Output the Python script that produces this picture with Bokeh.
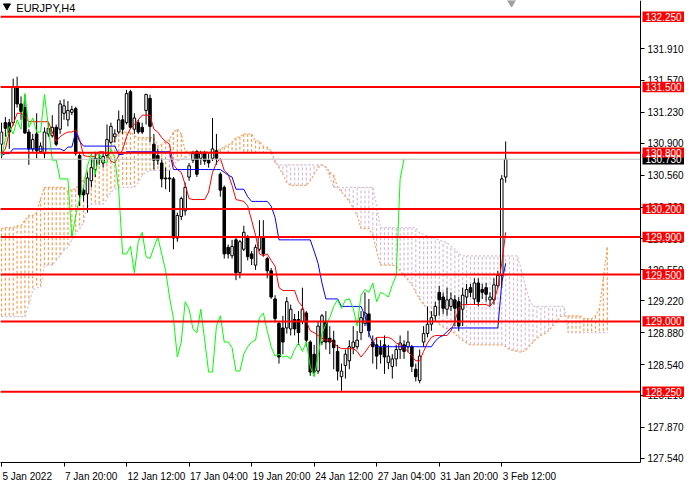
import numpy as np
from bokeh.plotting import figure
from bokeh.models import (Range1d, FixedTicker, PrintfTickFormatter, CustomJSTickFormatter,
                          ColumnDataSource, LinearAxis)
from bokeh.core.properties import value
from bokeh.embed import file_html
from bokeh.resources import INLINE

# ---------------- data (EURJPY, H4) ----------------
opens = [130.89,131.12,131.12,131.12,131.50,131.32,131.28,131.02,130.84,131.00,
         130.81,130.79,131.00,130.98,131.07,131.05,131.22,131.15,131.23,131.27,
         130.77,130.40,130.36,130.50,130.62,130.73,130.69,130.77,130.91,130.97,
         131.02,131.15,131.12,131.45,131.05,131.12,131.07,131.25,131.38,130.89,
         130.77,130.69,130.53,130.53,130.52,129.89,130.12,130.18,130.54,130.72,
         130.81,130.74,130.79,130.72,130.74,130.82,130.57,130.43,129.79,129.70,
         129.87,129.52,129.77,129.89,129.72,129.60,129.77,129.89,129.67,129.54,
         129.24,128.98,128.93,128.93,128.92,129.02,129.02,129.00,129.09,128.78,
         128.65,128.47,128.78,129.00,128.82,128.80,128.68,128.41,128.53,128.58,
         128.72,128.73,128.88,128.98,129.08,128.78,128.75,128.72,128.75,128.56,
         128.52,128.60,128.70,128.75,128.73,128.73,128.49,128.37,128.78,128.87,
         128.97,129.06,129.31,129.26,129.13,129.16,129.23,129.21,129.13,129.26,
         129.36,129.24,129.41,129.34,129.36,129.23,129.23,129.38,129.49,130.54]
highs = [131.12,131.18,131.16,131.59,131.61,131.40,131.42,131.05,131.00,131.22,
         130.91,131.07,131.12,131.20,131.10,131.36,131.37,131.35,131.30,131.29,
         130.81,130.43,130.59,130.74,130.81,130.81,130.81,131.10,131.12,131.05,
         131.25,131.20,131.47,131.47,131.22,131.15,131.12,131.43,131.42,131.00,
         130.84,130.74,130.64,130.61,130.54,130.16,130.33,130.48,130.69,130.82,
         130.83,130.82,130.82,130.79,131.17,131.00,130.59,130.45,129.82,129.87,
         129.89,129.87,130.02,129.92,129.75,129.82,130.08,130.08,129.69,129.57,
         129.28,129.00,129.06,129.26,129.18,129.08,129.11,129.36,129.11,128.80,
         128.75,129.00,129.08,129.11,128.95,128.90,128.75,128.55,128.70,128.80,
         128.95,128.90,129.11,129.31,129.24,128.85,128.83,128.80,128.85,128.75,
         128.65,128.75,128.85,128.80,128.90,128.75,128.55,128.70,128.95,129.16,
         129.11,129.21,129.38,129.31,129.36,129.31,129.28,129.26,129.36,129.40,
         129.40,129.46,129.46,129.40,129.41,129.31,129.46,129.54,130.56,130.92]
lows = [130.74,130.97,130.84,131.09,131.28,131.15,131.00,130.67,130.81,130.74,
        130.79,130.74,130.97,130.96,130.87,131.00,131.15,131.08,131.20,130.77,
        130.23,130.28,130.16,130.43,130.54,130.67,130.64,130.74,130.89,130.91,
        131.00,131.00,131.10,131.05,131.00,131.00,131.00,131.10,130.91,130.62,
        130.67,130.43,130.41,130.38,129.77,129.85,130.08,130.13,130.50,130.69,
        130.54,130.67,130.67,130.64,130.71,130.67,130.33,129.67,129.67,129.67,
        129.44,129.46,129.75,129.65,129.60,129.55,129.75,129.69,129.46,129.24,
        128.99,128.55,128.65,128.87,128.85,128.85,128.75,128.97,128.73,128.42,
        128.42,128.44,128.75,128.70,128.65,128.49,128.37,128.26,128.39,128.49,
        128.65,128.70,128.80,128.95,128.83,128.55,128.49,128.55,128.44,128.49,
        128.39,128.52,128.60,128.60,128.67,128.46,128.36,128.34,128.73,128.83,
        128.90,129.00,129.06,129.08,129.06,129.11,128.95,128.90,128.95,129.18,
        129.26,129.18,129.16,129.24,129.21,129.16,129.18,129.36,129.36,130.48]
closes = [131.02,131.06,131.02,131.50,131.32,131.24,131.01,130.84,130.94,130.82,
          130.87,131.02,131.06,131.07,130.89,131.32,131.30,131.25,131.26,130.79,
          130.35,130.35,130.53,130.64,130.74,130.74,130.76,130.94,131.08,131.00,
          131.15,131.05,131.43,131.07,131.17,131.02,131.02,131.42,131.08,130.72,
          130.72,130.52,130.52,130.52,129.89,130.13,130.31,130.43,130.66,130.79,
          130.57,130.79,130.71,130.69,130.84,130.74,130.40,129.72,129.72,129.80,
          129.52,129.85,129.95,129.69,129.67,129.79,129.90,129.72,129.54,129.26,
          129.03,128.62,128.78,129.21,129.13,128.92,128.88,129.13,128.80,128.46,
          128.46,128.95,129.06,128.78,128.78,128.72,128.47,128.47,128.65,128.73,
          128.78,128.80,129.04,129.09,128.90,128.73,128.63,128.65,128.62,128.63,
          128.60,128.70,128.77,128.68,128.78,128.52,128.41,128.63,128.87,128.97,
          129.04,129.16,129.23,129.14,129.23,129.24,129.14,128.95,129.28,129.34,
          129.31,129.41,129.21,129.31,129.29,129.26,129.39,129.49,130.52,130.73]

tenkan = ([130.79,130.84,131.02,131.10,131.22,131.22,131.18] + [131.13]*6 +
          [131.02,130.92,130.97,131.00,131.02,131.02,131.04,130.94,130.77] + [130.76]*3 +
          [130.81,130.81,130.79,130.71,130.69,130.77,130.83,130.97,131.06,131.10,131.15] + [131.20]*3 +
          [131.05,131.02,130.96,130.92,130.89,130.67,130.62,130.59,130.46,130.31] + [130.30]*4 +
          [130.38,130.59,130.69,130.74,130.61,130.57,130.45,130.30,130.29,130.28,
           130.23,130.08,129.92,129.72,129.70,129.72,129.65,129.59,129.36] + [129.33]*4 +
          [129.21,129.16,129.00,128.90,128.88,128.85,128.82,128.80,128.80,128.77,128.73] + [128.71]*4 +
          [128.68,128.62,128.67,128.73,128.78] + [128.83]*4 +
          [128.81,128.77,128.75,128.72,128.68,128.63,128.58,128.58,128.68,128.77,128.83] + [128.85]*4 +
          [128.90,129.00,129.14] + [129.18]*7 + [129.16,129.22,129.36,129.62,129.95])

kijun = ([130.77,130.79,130.79] + [130.84]*13 + [130.82,130.86,130.86,131.02,130.92] + [130.87]*9 +
         [130.78]*2 + [130.81]*12 + [130.62]*13 + [130.59,130.56,130.54] + [130.41]*3 + [130.33] +
         [130.28]*5 + [130.23,130.11] + [129.87]*9 + [129.75,129.62,129.41] + [129.24]*4 + [129.16]*6 +
         [129.06,128.88,128.77] + [128.73]*15 + [128.79,128.83,128.85,128.89] + [128.93]*13 + [129.41,129.62])

span_a = ([129.99] + [130.00]*3 + [130.02]*2 + [130.08] + [130.13]*2 + [130.16,130.31] + [130.43]*6 +
          [130.38,130.41,130.41,130.48,130.51,130.61,130.64,130.67,130.71,130.74,130.79,130.87,130.94,131.00] +
          [131.02]*3 + [130.98] + [130.96]*5 + [130.87,130.89,130.92,130.94,131.02,131.05,131.00,130.82] +
          [130.81]*7 + [130.82,130.84,130.86,130.88,130.91,130.96,130.97] + [131.00]*3 +
          [130.93,130.92,130.87,130.86,130.82,130.71,130.64,130.57,130.48] + [130.45]*5 +
          [130.50,130.57,130.64,130.67,130.65,130.59,130.56,130.43,130.38,130.33,130.28,130.21,130.13] +
          [129.99]*3 + [129.92,129.75] + [129.60]*4 +
          [129.59,129.54,129.49,129.44,129.39,129.31,129.24,129.18,129.13,129.08,
           129.03,128.97,128.94,128.92,128.90,128.87,128.83,128.80,128.77] + [128.75]*9 +
          [128.73,128.70,128.69,128.68,128.67,128.69,128.73,128.78,128.82,128.85,
           128.87,128.90,128.95,128.99,129.05] + [129.06]*5 + [129.03]*3 + [129.06,129.14,129.46,129.79])

span_b = ([129.05]*7 + [129.18,129.33,129.36,129.36] + [129.60]*3 +
          [129.65,129.70,129.76,129.79,129.87,129.94,129.99,130.05,130.23] + [130.25]*4 +
          [130.31,130.38,130.41] + [130.43]*5 + [130.48,130.56,130.59] + [130.61]*6 +
          [130.67,130.71,130.73,130.74,130.77] + [130.80]*21 + [130.69] + [130.67]*12 +
          [130.64,130.54] + [130.43]*11 + [130.23] + [130.00]*10 +
          [129.94,129.93,129.91,129.89,129.88,129.87,129.85,129.84,129.80,129.77,129.72] +
          [129.70]*15 + [129.55,129.39,129.24] + [129.16]*9 + [128.88]*11)

levels = [132.250, 131.500, 130.800, 130.200, 129.900, 129.500, 129.000, 128.250]
bid = 130.730
price_ticks = [131.910, 131.570, 131.230, 130.900, 130.560, 130.220, 129.880,
               129.550, 129.220, 128.880, 128.540, 128.210, 127.870, 127.540]
time_ticks = [0, 16, 32, 48, 64, 80, 96, 112, 128]
time_labels = ["5 Jan 2022", "7 Jan 20:00", "12 Jan 12:00", "17 Jan 04:00", "19 Jan 20:00",
               "24 Jan 12:00", "27 Jan 04:00", "31 Jan 20:00", "3 Feb 12:00"]
chikou_shift = 26
chart_shift_bar = 130.5
symbol_title = "EURJPY,H4"

n = len(closes)
assert len(opens) == n and len(highs) == n and len(lows) == n
assert len(tenkan) == n and len(kijun) == n, (len(tenkan), len(kijun))
assert len(span_a) == len(span_b), (len(span_a), len(span_b))

# ---------------- layout / styling ----------------
FONT = "Liberation Sans"
SANDY = "#F4A460"
THISTLE = "#D8BFD8"
W, H = 684, 484
BOTTOM = 17
FRAME_H = H - BOTTOM
PLOT_W = 640                      # width of the price area (left of the price scale)
Y0, Y1 = 127.495, 132.423
X0, X_AXIS = -0.25, 163.5         # visible bars
PX_PER_BAR = PLOT_W / (X_AXIS - X0)
X_END = X0 + W / PX_PER_BAR       # the scale strip lives inside the frame, right of X_AXIS
PX_PER_PRICE = FRAME_H / (Y1 - Y0)

p = figure(width=W, height=H, x_range=Range1d(X0, X_END), y_range=Range1d(Y0, Y1),
           y_axis_location=None, output_backend="svg", toolbar_location=None,
           min_border_left=0, min_border_top=0, min_border_right=0, min_border_bottom=BOTTOM)
p.grid.visible = False
p.outline_line_color = None
p.background_fill_color = "white"
p.border_fill_color = "white"

# Ichimoku cloud (hatched)
ci = np.arange(len(span_a))
cloud = ColumnDataSource(dict(x=ci, a=span_a, b=span_b,
                              col=[SANDY if a >= b else THISTLE for a, b in zip(span_a, span_b)]))
p.segment(x0="x", y0="a", x1="x", y1="b", source=cloud, line_color="col", line_width=1.25, line_dash="3 2")
p.line(ci, span_a, line_color=SANDY, line_width=1.2, line_dash="2 2")
p.line(ci, span_b, line_color=THISTLE, line_width=1.2, line_dash="2 2")

# candles
idx = np.arange(n)
o = np.array(opens); c = np.array(closes)
src = ColumnDataSource(dict(x=idx, h=highs, l=lows, top=np.maximum(o, c), bot=np.minimum(o, c),
                            fill=["white" if cc >= oo else "black" for oo, cc in zip(opens, closes)]))
p.segment(x0="x", y0="l", x1="x", y1="h", source=src, line_color="black", line_width=1)
p.vbar(x="x", top="top", bottom="bot", width=0.65, source=src, fill_color="fill",
       line_color="black", line_width=1)

# Ichimoku lines
p.line(idx, tenkan, line_color="#FF0000", line_width=1)
p.line(idx, kijun, line_color="#0000FF", line_width=1)
p.line(idx[chikou_shift:] - chikou_shift, closes[chikou_shift:], line_color="#00FF00", line_width=1)

# bid line and horizontal levels (stop at the price scale)
p.segment(x0=[X0], y0=[bid], x1=[X_AXIS], y1=[bid], line_color="#C0C0C0", line_width=1)
p.segment(x0=[X0] * len(levels), y0=levels, x1=[X_AXIS] * len(levels), y1=levels,
          line_color="#FF0000", line_width=2)

# price scale: an axis fixed at the right edge of the price area
ya = LinearAxis(fixed_location=X_AXIS)
ya.ticker = FixedTicker(ticks=price_ticks)
ya.formatter = PrintfTickFormatter(format="%.3f")
ya.major_tick_in = 0
ya.major_tick_out = 4
ya.minor_tick_line_color = None
ya.major_label_standoff = 3
ya.axis_line_color = "black"
ya.major_tick_line_color = "black"
ya.major_label_text_font = FONT
ya.major_label_text_font_size = "10px"
ya.major_label_text_color = "black"
p.add_layout(ya, "right")

# time axis: tick marks at the bars, labels starting at the tick (left aligned look)
CW = {" ": 0.278, ":": 0.278, "J": 0.5, "a": 0.556, "n": 0.556, "F": 0.611, "e": 0.556, "b": 0.556}
def text_px(s, size=10):
    return sum(CW.get(ch, 0.556) for ch in s) * size
label_centers = [t + (text_px(s) / 2 + 1) / PX_PER_BAR for t, s in zip(time_ticks, time_labels)]
xa = p.xaxis[0]
xa.ticker = FixedTicker(ticks=label_centers, minor_ticks=time_ticks)
xa.formatter = CustomJSTickFormatter(args=dict(labels=time_labels), code="return labels[index];")
xa.bounds = (X0, X_AXIS)
xa.major_tick_line_color = None
xa.minor_tick_in = 0
xa.minor_tick_out = 4
xa.minor_tick_line_color = "black"
xa.axis_line_color = "black"
xa.major_label_standoff = 2
xa.major_label_text_font = FONT
xa.major_label_text_font_size = "10px"
xa.major_label_text_color = "black"

# price boxes on the scale (drawn above the tick labels)
BOX_H = 10.5 / PX_PER_PRICE
box_left = X_AXIS + 2 / PX_PER_BAR
text_x = X_AXIS + 5 / PX_PER_BAR
box_prices = [bid] + levels
box_colors = ["#000000"] + ["#FF0000"] * len(levels)
boxes = ColumnDataSource(dict(y=box_prices, top=[v + BOX_H / 2 for v in box_prices],
                              bottom=[v - BOX_H / 2 for v in box_prices], col=box_colors,
                              txt=[f"{v:.3f}" for v in box_prices]))
qr = p.quad(left=box_left, right=X_END, top="top", bottom="bottom", source=boxes,
            fill_color="col", line_color=None)
qr.level = "overlay"
tr = p.text(x=text_x, y="y", text="txt", source=boxes, text_color="white", text_align="left",
            text_baseline="middle", text_font=value(FONT), text_font_size="10px")
tr.level = "overlay"

# title and markers
p.scatter([1.4], [Y1 - 5.5 / PX_PER_PRICE], marker="inverted_triangle", size=7, color="black")
p.text(x=[3.8], y=[Y1 - 1.5 / PX_PER_PRICE], text=[symbol_title], text_align="left", text_baseline="top",
       text_font=value(FONT), text_font_size="11px", text_color="black")
p.scatter([chart_shift_bar], [Y1 - 2 / PX_PER_PRICE], marker="inverted_triangle", size=8, color="#A0A0A0")

open("out.html", "w").write(file_html(p, INLINE))
